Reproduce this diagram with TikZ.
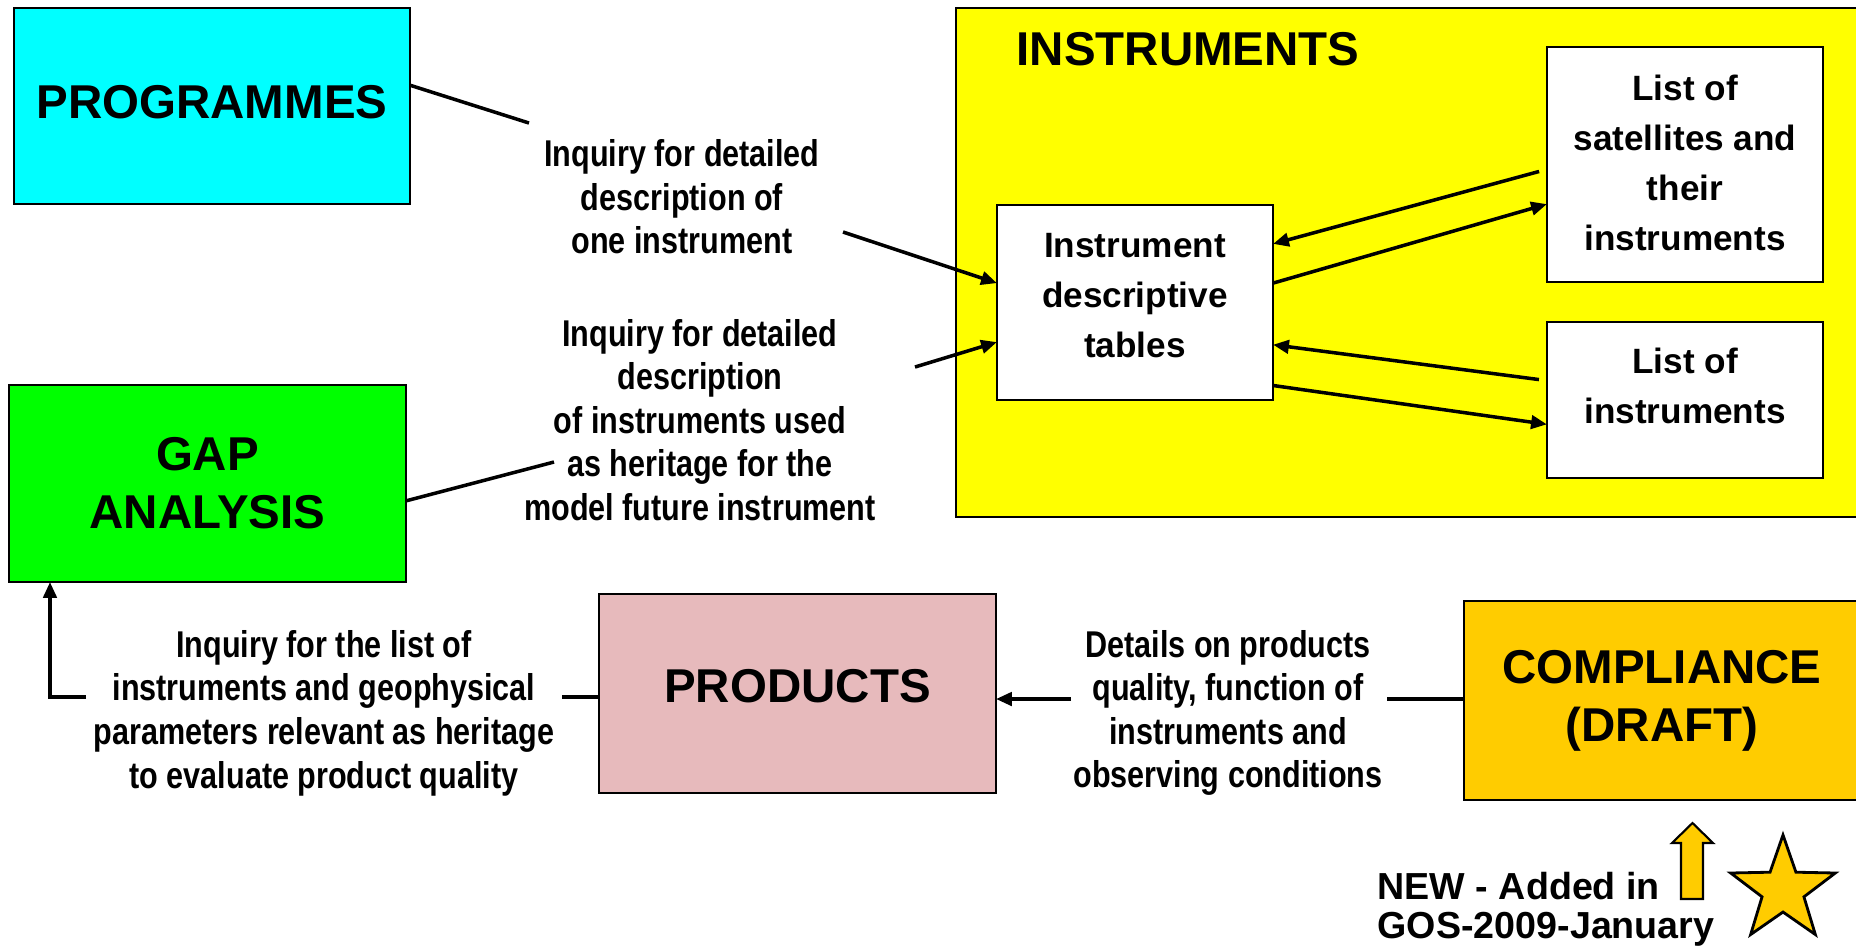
\documentclass[tikz,border=0pt]{standalone}
\usepackage{fontspec}
\setmainfont{Liberation Sans}
\newfontfamily\narrowfont[FakeStretch=0.82]{Liberation Sans}
\usetikzlibrary{arrows.meta,shapes.geometric}

\definecolor{progcyan}{RGB}{0,255,255}
\definecolor{gapgreen}{RGB}{0,255,0}
\definecolor{instyellow}{RGB}{255,255,0}
\definecolor{prodpink}{RGB}{231,186,188}
\definecolor{newgold}{RGB}{255,204,0}

\begin{document}
\begin{tikzpicture}[x=0.01cm, y=-0.01cm,
    box/.style={draw, line width=0.7pt, inner sep=0pt, outer sep=0pt, align=center},
    big/.style={font=\fontsize{13.5}{16.5}\selectfont\bfseries},
    small/.style={font=\fontsize{10}{14.2}\selectfont\bfseries},
    note/.style={align=center, inner sep=0pt, font=\narrowfont\fontsize{10.6}{12.4}\selectfont\bfseries},
    link/.style={line width=1pt},
    arr/.style={link, -{Triangle[length=4.5pt,width=3.8pt]}}]

   \path[use as bounding box, clip] (0,0) rectangle (1856,950);

   % coloured boxes, text raised by \s pt
   \foreach \n/\x/\y/\w/\h/\c/\s/\t in {inst/1408/262.5/904/509/instyellow/0/{},
       prog/212/106/396/196/progcyan/1/{PROGRAMMES},
       gap/207.5/483.5/397/197/gapgreen/0/{GAP\\ANALYSIS},
       prod/797.5/693.5/397/199/prodpink/2/{PRODUCTS},
       comp/1662/700.5/396/199/newgold/0/{COMPLIANCE\\(DRAFT)}}
     \node [box, fill=\c, minimum width=\w*0.01cm, minimum height=\h*0.01cm,
        label={[name=\n-text, big, align=center, yshift=\s pt]center:\t}]
        (\n) at (\x,\y) {};

   \node [big, anchor=west, inner sep=0pt] (insttitle) at (1016,49) {INSTRUMENTS};

   % white boxes inside INSTRUMENTS
   \foreach \n/\x/\y/\h/\s/\t in {desc/1135/302.5/195/2/{Instrument\\descriptive\\tables},
       sat/1685/164.5/235/0.5/{List of\\satellites and\\their\\instruments},
       list/1685/400/156/4/{List of\\instruments}}
     \node [box, fill=white, minimum width=2.76cm, minimum height=\h*0.01cm,
        label={[name=\n-text, small, align=center, yshift=\s pt]center:\t}]
        (\n) at (\x,\y) {};

   % texts on the connectors
   \node [note] (q1) at (682,197) {Inquiry for detailed\\description of\\one instrument};
   \node [note] (q2) at (700,420) {Inquiry for detailed\\description\\of instruments used\\as heritage for the\\model future instrument};
   \node [note] (q3) at (324,713) {Inquiry for the list of\\instruments and geophysical\\parameters relevant as heritage\\to evaluate product quality};
   \node [note] (q4) at (1228,713) {Details on products\\quality, function of\\instruments and\\observing conditions};

   \coordinate (p1) at (529,123);
   \coordinate (p2) at (843,232);
   \coordinate (p3) at (915,367);
   \coordinate (p4) at (554,462);
   \coordinate (p5) at (562,697);
   \coordinate (p6) at (86,697);
   \coordinate (p7) at (50,697);
   \coordinate (p8) at (1387,699);
   \coordinate (p9) at (1071,699);

   \draw [link] (prog.6) -- (p1);
   \draw [arr] (p2) -- (desc.172);
   \draw [arr] (p3) -- (desc.196);
   \draw [link] (gap.-5) -- (p4);

   \draw [arr, shorten <=2.3pt] (sat.182) -- (desc.23);
   \draw [arr] (desc.8) -- (sat.196);
   \draw [arr, shorten <=2.3pt] (list.172) -- (desc.-17);
   \draw [arr] (desc.-31) -- (list.190);

   \draw [link] (p5 -| prod.west) -- (p5);
   \draw [arr] (p6) -- (p7) -- (p7 |- gap.south);
   \draw [link] (p8 -| comp.west) -- (p8);
   \draw [arr] (p9) -- (p9 -| prod.east);

   % new mark
   \node [anchor=north west, align=left, inner sep=0pt, font=\fontsize{10.7}{10.9}\selectfont\bfseries]
      (newnote) at (1377,872) {NEW - Added in\\GOS-2009-January};
   \draw [fill=newgold, line width=0.6pt] (1681,899) -- (1681,843) -- (1672,843) -- (1692.5,823)
      -- (1713,843) -- (1703,843) -- (1703,899) -- cycle;
   \node [star, star points=5, star point ratio=2.5, minimum size=1.1cm, inner sep=0pt,
      draw, fill=newgold, line width=0.8pt] (newstar) at (1783,890) {};

\end{tikzpicture}
\end{document}
